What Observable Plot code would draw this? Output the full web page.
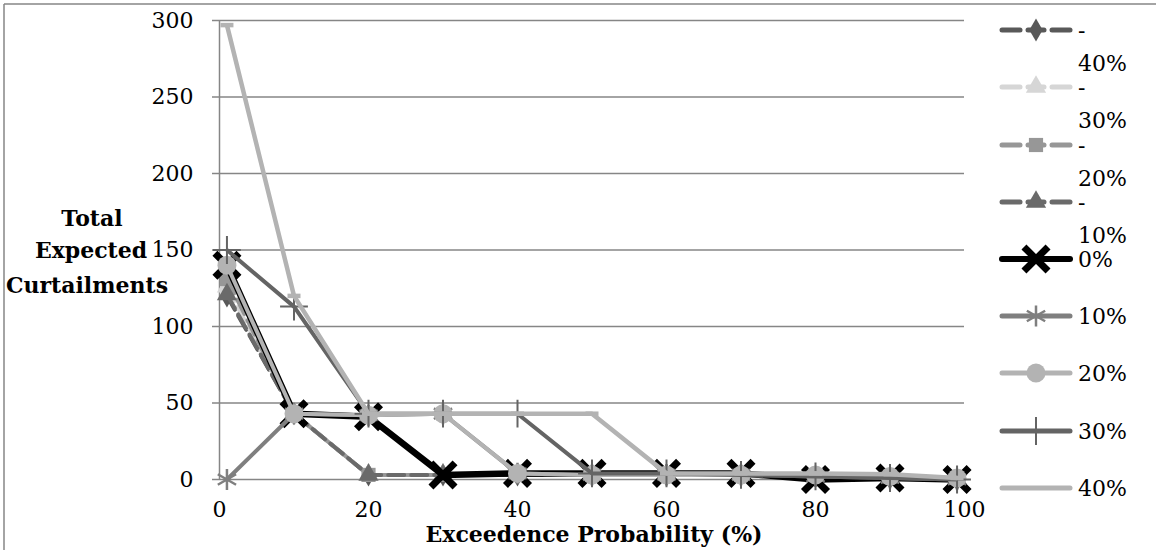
<!DOCTYPE html>
<html>
<head>
<meta charset="utf-8">
<script src="https://cdn.jsdelivr.net/npm/d3@7"></script>
<script src="https://cdn.jsdelivr.net/npm/@observablehq/plot@0.6"></script>
<style>
  html, body { margin: 0; padding: 0; background: white; }
  #wrap { position: relative; width: 1156px; height: 550px; overflow: hidden; }
  #wrap svg { position: absolute; left: 0; top: 0; }
</style>
</head>
<body>
<div id="wrap"></div>
<script>
// ---------- data ----------
const xValues = [1, 10, 20, 30, 40, 50, 60, 70, 80, 90, 99];
const seriesNames = ["-40%", "-30%", "-20%", "-10%", "0%", "10%", "20%", "30%", "40%"];
const valsNeg40 = [120, 43, 3, 3, 3, 3, 3, 3, 2, 1, 0];
const valsNeg30 = [126, 43, 3, 3, 3, 3, 3, 3, 2, 1, 0];
const valsNeg20 = [131, 43, 3, 3, 3, 3, 3, 3, 2, 1, 0];
const valsNeg10 = [121, 43, 3, 3, 3, 3, 3, 3, 2, 1, 0];
const vals0     = [140, 43, 41, 3, 4, 4, 4, 4, 0, 1, 0];
const vals10    = [0, 43, 42, 43, 4, 3, 3, 3, 2, 1, 0];
const vals20    = [140, 43, 42, 43, 4, 3, 3, 3, 3, 2, 1];
const vals30    = [150, 113, 43, 43, 43, 4, 4, 3, 2, 1, 0];
const vals40    = [297, 120, 43, 43, 43, 43, 4, 4, 4, 3.5, 1];
const yTicks = [0, 50, 100, 150, 200, 250, 300];
const xTicks = [0, 20, 40, 60, 80, 100];

const seriesValues = [valsNeg40, valsNeg30, valsNeg20, valsNeg10, vals0, vals10, vals20, vals30, vals40];

// ---------- styles ----------
const dashSymbol = {
  draw(ctx, size) { const r = Math.sqrt(size / Math.PI); ctx.moveTo(-r, 0); ctx.lineTo(r, 0); }
};
const styles = {
  "-40%": {color: "#595959", width: 4, dash: "16,7", symbol: "diamond", r: 7, filled: true},
  "-30%": {color: "#d6d6d6", width: 4, dash: "16,7", symbol: "triangle", r: 7.5, filled: true},
  "-20%": {color: "#979797", width: 4, dash: "16,7", symbol: "square", r: 8, filled: true},
  "-10%": {color: "#6a6a6a", width: 4, dash: "16,7", symbol: "triangle", r: 7.5, filled: true},
  "0%":   {color: "#000000", width: 6.5, dash: null, symbol: "times", r: 11, filled: false, sw: 7},
  "10%":  {color: "#7f7f7f", width: 4, dash: null, symbol: "asterisk", r: 10, filled: false, sw: 2.5},
  "20%":  {color: "#b3b3b3", width: 4, dash: null, symbol: "circle", r: 9.5, filled: true},
  "30%":  {color: "#646464", width: 4, dash: null, symbol: "plus", r: 9, filled: false, sw: 2},
  "40%":  {color: "#b3b3b3", width: 4.5, dash: null, symbol: dashSymbol, r: 6.5, filled: false, sw: 4.5}
};

const table = seriesNames.map((name, i) =>
  xValues.map((x, j) => ({series: name, x, y: seriesValues[i][j]})));

const marks = [
  Plot.ruleY(yTicks, {stroke: "#868686", strokeWidth: 1.5}),
  Plot.ruleX([0], {stroke: "#868686", strokeWidth: 1.5}),
  Plot.axisY({ticks: yTicks, tickSize: 7, tickPadding: 19, stroke: "#868686", strokeWidth: 1.5, label: null}),
  Plot.axisX({ticks: xTicks, tickSize: 0, tickPadding: 22, label: null})
];
seriesNames.forEach((name, i) => {
  const s = styles[name];
  marks.push(Plot.line(table[i], {
    x: "x", y: "y", stroke: s.color, strokeWidth: s.width,
    strokeDasharray: s.dash || undefined, strokeLinejoin: "round", strokeLinecap: s.dash ? "round" : "butt"
  }));
  if (s.filled) {
    marks.push(Plot.dot(table[i], {x: "x", y: "y", symbol: s.symbol, r: s.r, fill: s.color, stroke: "none"}));
  } else {
    marks.push(Plot.dot(table[i], {x: "x", y: "y", symbol: s.symbol, r: s.r, fill: "none", stroke: s.color, strokeWidth: s.sw}));
  }
});

const chart = Plot.plot({
  width: 1156,
  height: 550,
  marginLeft: 219,
  marginRight: 192,
  marginTop: 20,
  marginBottom: 71,
  x: {domain: [0, 100]},
  y: {domain: [0, 300]},
  style: {fontFamily: "DejaVu Serif", fontSize: "22px", color: "black", background: "white", overflow: "visible"},
  marks
});
document.getElementById("wrap").appendChild(chart);

// ---------- overlay: frame, axis titles, legend ----------
const ov = d3.select("#wrap").append("svg")
  .attr("width", 1156).attr("height", 550)
  .style("pointer-events", "none")
  .style("font-family", "DejaVu Serif");

ov.append("line").attr("x1", 4).attr("x2", 4).attr("y1", 4).attr("y2", 550)
  .attr("stroke", "#868686").attr("stroke-width", 1.5);
ov.append("line").attr("x1", 4).attr("x2", 1156).attr("y1", 4).attr("y2", 4)
  .attr("stroke", "#868686").attr("stroke-width", 1.5);

const yTitle = [["Total", 92, 218], ["Expected", 91, 250], ["Curtailments", 87, 285]];
yTitle.forEach(([t, x, y]) => {
  ov.append("text").text(t).attr("x", x).attr("y", y).attr("dy", "0.35em")
    .attr("text-anchor", "middle").attr("font-weight", "bold").attr("font-size", 22);
});
ov.append("text").text("Exceedence Probability (%)").attr("x", 594).attr("y", 534).attr("dy", "0.35em")
  .attr("text-anchor", "middle").attr("font-weight", "bold").attr("font-size", 22);

const legendY = [30, 87, 145, 202, 259, 316, 373, 431, 488];
const symbolMap = {
  diamond: d3.symbolDiamond, triangle: d3.symbolTriangle, square: d3.symbolSquare,
  times: d3.symbolTimes, asterisk: d3.symbolAsterisk, circle: d3.symbolCircle, plus: d3.symbolPlus
};
seriesNames.forEach((name, i) => {
  const s = styles[name];
  const y = legendY[i];
  const g = ov.append("g");
  if (s.dash) {
    [[1002, 1020], [1028, 1044], [1052, 1070]].forEach(([a, b]) => {
      g.append("line").attr("x1", a).attr("x2", b).attr("y1", y).attr("y2", y)
        .attr("stroke", s.color).attr("stroke-width", 5).attr("stroke-linecap", "round");
    });
  } else {
    g.append("line").attr("x1", 1002).attr("x2", 1070).attr("y1", y).attr("y2", y)
      .attr("stroke", s.color).attr("stroke-width", name === "0%" ? 6 : 5).attr("stroke-linecap", "round");
  }
  if (typeof s.symbol === "string") {
    const path = d3.symbol(symbolMap[s.symbol], Math.PI * s.r * s.r)();
    const p = g.append("path").attr("d", path).attr("transform", `translate(1036,${y})`);
    if (s.filled) p.attr("fill", s.color);
    else p.attr("fill", "none").attr("stroke", s.color).attr("stroke-width", s.sw);
  }
  if (name.startsWith("-")) {
    g.append("text").text("-").attr("x", 1078).attr("y", y).attr("dy", "0.35em").attr("font-size", 22);
    g.append("text").text(name.slice(1)).attr("x", 1078).attr("y", y + 33).attr("dy", "0.35em").attr("font-size", 22);
  } else {
    g.append("text").text(name).attr("x", 1078).attr("y", y).attr("dy", "0.35em").attr("font-size", 22);
  }
});
</script>
</body>
</html>
